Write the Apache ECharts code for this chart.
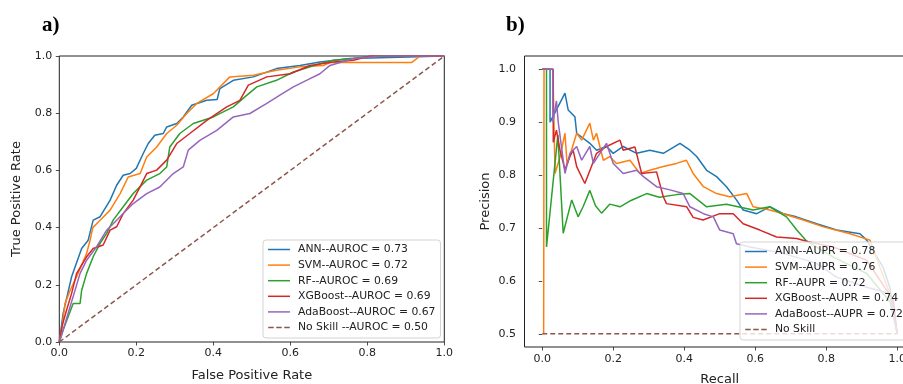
<!DOCTYPE html>
<html>
<head>
<meta charset="utf-8">
<script src="https://cdn.jsdelivr.net/npm/echarts@6/dist/echarts.min.js"></script>
<style>
  html, body { margin: 0; padding: 0; background: #fff; }
  #chart { width: 903px; height: 384px; }
</style>
</head>
<body>
<div id="chart"></div>
<script>
// a) ROC curves (false positive rate, true positive rate)
const annFpr = [0, 0.01, 0.032, 0.058, 0.075, 0.088, 0.106, 0.132, 0.149, 0.166, 0.184, 0.2, 0.218, 0.231, 0.248, 0.27, 0.279, 0.305, 0.322, 0.344, 0.383, 0.41, 0.417, 0.452, 0.504, 0.564, 0.625, 0.677, 0.755, 0.833, 1];
const annTpr = [0, 0.1, 0.228, 0.327, 0.356, 0.426, 0.438, 0.496, 0.548, 0.583, 0.589, 0.607, 0.659, 0.694, 0.723, 0.729, 0.752, 0.764, 0.787, 0.828, 0.845, 0.848, 0.886, 0.915, 0.927, 0.956, 0.967, 0.979, 0.991, 0.994, 1];
const svmFpr = [0, 0.008, 0.015, 0.028, 0.045, 0.071, 0.08, 0.087, 0.106, 0.132, 0.158, 0.179, 0.21, 0.227, 0.253, 0.279, 0.305, 0.331, 0.357, 0.4, 0.443, 0.504, 0.564, 0.625, 0.686, 0.703, 0.915, 0.937, 1];
const svmTpr = [0, 0.06, 0.135, 0.18, 0.228, 0.31, 0.356, 0.4, 0.426, 0.461, 0.519, 0.577, 0.589, 0.647, 0.682, 0.729, 0.758, 0.799, 0.834, 0.868, 0.927, 0.933, 0.95, 0.962, 0.967, 0.977, 0.977, 1, 1];
const rfFpr = [0, 0.01, 0.023, 0.036, 0.054, 0.058, 0.071, 0.088, 0.106, 0.123, 0.14, 0.166, 0.192, 0.227, 0.261, 0.279, 0.287, 0.313, 0.348, 0.4, 0.452, 0.482, 0.513, 0.564, 0.608, 0.677, 0.712, 0.764, 0.798, 1];
const rfTpr = [0, 0.042, 0.088, 0.135, 0.135, 0.18, 0.24, 0.298, 0.345, 0.38, 0.426, 0.473, 0.519, 0.566, 0.589, 0.612, 0.682, 0.729, 0.764, 0.787, 0.822, 0.857, 0.892, 0.915, 0.944, 0.973, 0.985, 0.991, 0.997, 1];
const xgbFpr = [0, 0.008, 0.019, 0.032, 0.045, 0.071, 0.088, 0.114, 0.132, 0.149, 0.166, 0.192, 0.21, 0.227, 0.253, 0.279, 0.305, 0.339, 0.383, 0.435, 0.469, 0.491, 0.539, 0.6, 0.651, 0.712, 0.764, 0.807, 1];
const xgbTpr = [0, 0.06, 0.112, 0.17, 0.24, 0.298, 0.327, 0.339, 0.391, 0.403, 0.449, 0.496, 0.543, 0.589, 0.601, 0.636, 0.694, 0.729, 0.775, 0.822, 0.845, 0.898, 0.927, 0.938, 0.967, 0.979, 0.985, 1, 1];
const adaFpr = [0, 0.01, 0.028, 0.054, 0.071, 0.097, 0.123, 0.149, 0.166, 0.192, 0.227, 0.261, 0.296, 0.322, 0.335, 0.365, 0.409, 0.452, 0.495, 0.539, 0.573, 0.608, 0.642, 0.677, 0.703, 0.764, 0.842, 1];
const adaTpr = [0, 0.042, 0.123, 0.24, 0.286, 0.333, 0.391, 0.426, 0.449, 0.484, 0.519, 0.542, 0.589, 0.612, 0.671, 0.705, 0.74, 0.787, 0.799, 0.834, 0.863, 0.892, 0.915, 0.938, 0.967, 0.991, 1, 1];
const rocSkillX = [0, 1];
const rocSkillY = [0, 1];

// b) precision-recall curves (recall, precision)
const annRec = [0, 0.022, 0.022, 0.064, 0.073, 0.092, 0.097, 0.134, 0.153, 0.181, 0.2, 0.228, 0.266, 0.303, 0.341, 0.388, 0.416, 0.435, 0.463, 0.491, 0.519, 0.547, 0.566, 0.604, 0.641, 0.679, 0.716, 0.773, 0.829, 0.895, 0.914, 0.96, 0.979, 0.993, 1];
const annPre = [1, 1, 0.9, 0.955, 0.923, 0.91, 0.879, 0.86, 0.847, 0.854, 0.841, 0.854, 0.841, 0.847, 0.841, 0.86, 0.847, 0.835, 0.809, 0.797, 0.778, 0.753, 0.734, 0.727, 0.74, 0.727, 0.721, 0.708, 0.696, 0.689, 0.677, 0.626, 0.588, 0.53, 0.5];
const svmRec = [0.004, 0.005, 0.03, 0.036, 0.05, 0.064, 0.07, 0.097, 0.111, 0.134, 0.144, 0.153, 0.172, 0.19, 0.209, 0.247, 0.275, 0.303, 0.341, 0.378, 0.406, 0.425, 0.454, 0.491, 0.528, 0.576, 0.594, 0.641, 0.679, 0.735, 0.792, 0.867, 0.923, 0.951, 0.979, 1];
const svmPre = [0.5, 1, 1, 0.803, 0.834, 0.879, 0.82, 0.879, 0.866, 0.898, 0.866, 0.879, 0.828, 0.835, 0.822, 0.828, 0.803, 0.809, 0.816, 0.822, 0.828, 0.803, 0.778, 0.765, 0.759, 0.765, 0.74, 0.734, 0.727, 0.715, 0.702, 0.689, 0.677, 0.626, 0.576, 0.5];
const rfRec = [0, 0.012, 0.012, 0.044, 0.059, 0.083, 0.101, 0.115, 0.134, 0.15, 0.167, 0.19, 0.219, 0.25, 0.294, 0.33, 0.379, 0.416, 0.463, 0.519, 0.594, 0.641, 0.688, 0.717, 0.745, 0.82, 0.914, 0.98, 1];
const rfPre = [1, 1, 0.664, 0.876, 0.69, 0.753, 0.721, 0.74, 0.771, 0.742, 0.728, 0.745, 0.74, 0.752, 0.765, 0.758, 0.763, 0.765, 0.74, 0.745, 0.734, 0.74, 0.721, 0.696, 0.675, 0.645, 0.614, 0.56, 0.5];
const xgbRec = [0, 0.031, 0.031, 0.04, 0.05, 0.064, 0.078, 0.087, 0.097, 0.12, 0.153, 0.181, 0.219, 0.228, 0.261, 0.28, 0.322, 0.341, 0.35, 0.407, 0.425, 0.453, 0.5, 0.538, 0.566, 0.613, 0.66, 0.717, 0.749, 0.82, 0.914, 0.989, 1];
const xgbPre = [1, 1, 0.862, 0.885, 0.847, 0.81, 0.835, 0.847, 0.816, 0.784, 0.841, 0.854, 0.866, 0.847, 0.853, 0.803, 0.806, 0.759, 0.746, 0.74, 0.72, 0.715, 0.727, 0.727, 0.708, 0.696, 0.683, 0.68, 0.674, 0.664, 0.639, 0.563, 0.5];
const adaRec = [0, 0.03, 0.03, 0.04, 0.045, 0.064, 0.078, 0.097, 0.111, 0.134, 0.144, 0.181, 0.2, 0.228, 0.266, 0.285, 0.322, 0.36, 0.397, 0.416, 0.454, 0.482, 0.5, 0.538, 0.547, 0.585, 0.679, 0.773, 0.829, 0.914, 0.979, 1];
const adaPre = [1, 1, 0.9, 0.94, 0.9, 0.803, 0.841, 0.854, 0.828, 0.854, 0.822, 0.86, 0.822, 0.803, 0.809, 0.797, 0.778, 0.772, 0.765, 0.74, 0.727, 0.721, 0.696, 0.689, 0.67, 0.664, 0.652, 0.633, 0.607, 0.588, 0.576, 0.5];
const prSkillX = [0, 1];
const prSkillY = [0.5, 0.5];

const rocNames = ['ANN--AUROC = 0.73', 'SVM--AUROC = 0.72', 'RF--AUROC = 0.69', 'XGBoost--AUROC = 0.69', 'AdaBoost--AUROC = 0.67', 'No Skill --AUROC = 0.50'];
const prNames = ['ANN--AUPR = 0.78', 'SVM--AUPR = 0.76', 'RF--AUPR = 0.72', 'XGBoost--AUPR = 0.74', 'AdaBoost--AUPR = 0.72', 'No Skill'];
const prXTicks = [0, 0.2, 0.4, 0.6, 0.8, 1.0];
const prYTicks = [0.5, 0.6, 0.7, 0.8, 0.9, 1.0];

const colors = ['#1f77b4', '#ff7f0e', '#2ca02c', '#d62728', '#9467bd', '#8c564b'];
const FONT = 'DejaVu Sans';
const solidIcon = 'path://M0,0H22V1.5H0Z';
const dashIcon = 'path://M0,0H5.5V1.5H0Z M8,0H13.5V1.5H8Z M16,0H21.5V1.5H16Z';

const zip = (xs, ys) => xs.map((x, i) => [x, ys[i]]);
const rocData = [zip(annFpr, annTpr), zip(svmFpr, svmTpr), zip(rfFpr, rfTpr), zip(xgbFpr, xgbTpr), zip(adaFpr, adaTpr), zip(rocSkillX, rocSkillY)];
const prData = [zip(annRec, annPre), zip(svmRec, svmPre), zip(rfRec, rfPre), zip(xgbRec, xgbPre), zip(adaRec, adaPre), zip(prSkillX, prSkillY)];

const mkSeries = (names, data, idx) => names.map((n, i) => ({
    name: n,
    type: 'line',
    xAxisIndex: idx,
    yAxisIndex: idx,
    data: data[i],
    symbol: 'none',
    showSymbol: false,
    clip: true,
    lineStyle: { color: colors[i], width: 1.5, type: i === 5 ? [5, 3] : 'solid' },
    itemStyle: { color: colors[i] },
    z: 2
}));

const legendItems = names => names.map((n, i) => ({ name: n, icon: i === 5 ? dashIcon : solidIcon }));

const fmt = v => v.toFixed(1);
const axisBase = (nameGap, margin) => ({
    type: 'value',
    axisLine: { show: false },
    splitLine: { show: false },
    axisTick: { show: true, length: 3.5, lineStyle: { color: '#222', width: 0.8 } },
    axisLabel: { fontSize: 11, fontFamily: FONT, color: '#222', margin: margin, formatter: fmt },
    nameLocation: 'middle',
    nameGap: nameGap,
    nameTextStyle: { fontSize: 13, fontFamily: FONT, color: '#222' }
});

const legendBase = {
    orient: 'vertical',
    itemWidth: 22,
    itemHeight: 1.5,
    itemGap: 4.6,
    backgroundColor: 'rgba(255,255,255,0.8)',
    borderColor: '#d3d3d3',
    borderWidth: 1,
    borderRadius: 3,
    textStyle: { fontSize: 10.8, fontFamily: FONT, color: '#222', padding: [0, 0, 0, 3] }
};

const chart = echarts.init(document.getElementById('chart'));
chart.setOption({
    animation: false,
    backgroundColor: '#fff',
    title: [
        { text: 'a)', left: 37, top: 10, textStyle: { fontFamily: 'Liberation Serif', fontWeight: 'bold', fontSize: 21, color: '#000' } },
        { text: 'b)', left: 501, top: 10, textStyle: { fontFamily: 'Liberation Serif', fontWeight: 'bold', fontSize: 21, color: '#000' } }
    ],
    grid: [
        { left: 59.3, top: 56, width: 385, height: 286, outerBoundsMode: 'none', containLabel: false, show: true, borderColor: '#222', borderWidth: 1, backgroundColor: 'transparent' },
        { left: 524.5, top: 56, width: 390.5, height: 291, outerBoundsMode: 'none', containLabel: false, show: true, borderColor: '#222', borderWidth: 1, backgroundColor: 'transparent' }
    ],
    xAxis: [
        Object.assign(axisBase(27, 6), { gridIndex: 0, min: 0, max: 1, interval: 0.2, name: 'False Positive Rate' }),
        Object.assign(axisBase(26, 6.5), { gridIndex: 1, min: -0.05, max: 1.05, name: 'Recall',
            axisTick: { show: true, length: 3.5, lineStyle: { color: '#222', width: 0.8 }, customValues: prXTicks },
            axisLabel: { fontSize: 11, fontFamily: FONT, color: '#222', margin: 6.5, formatter: fmt, customValues: prXTicks } })
    ],
    yAxis: [
        Object.assign(axisBase(36, 7), { gridIndex: 0, min: 0, max: 1, interval: 0.2, name: 'True Positive Rate' }),
        Object.assign(axisBase(32, 8.5), { gridIndex: 1, min: 0.475, max: 1.025, name: 'Precision',
            axisTick: { show: true, length: 3.5, lineStyle: { color: '#222', width: 0.8 }, customValues: prYTicks },
            axisLabel: { fontSize: 11, fontFamily: FONT, color: '#222', margin: 8.5, formatter: fmt, customValues: prYTicks } })
    ],
    legend: [
        Object.assign({}, legendBase, { left: 263, top: 240, padding: [4, 5, 5, 5], data: legendItems(rocNames) }),
        Object.assign({}, legendBase, { left: 740, top: 242, padding: [4, 5, 5, 5], data: legendItems(prNames) })
    ],
    series: mkSeries(rocNames, rocData, 0).concat(mkSeries(prNames, prData, 1))
});
</script>
</body>
</html>
